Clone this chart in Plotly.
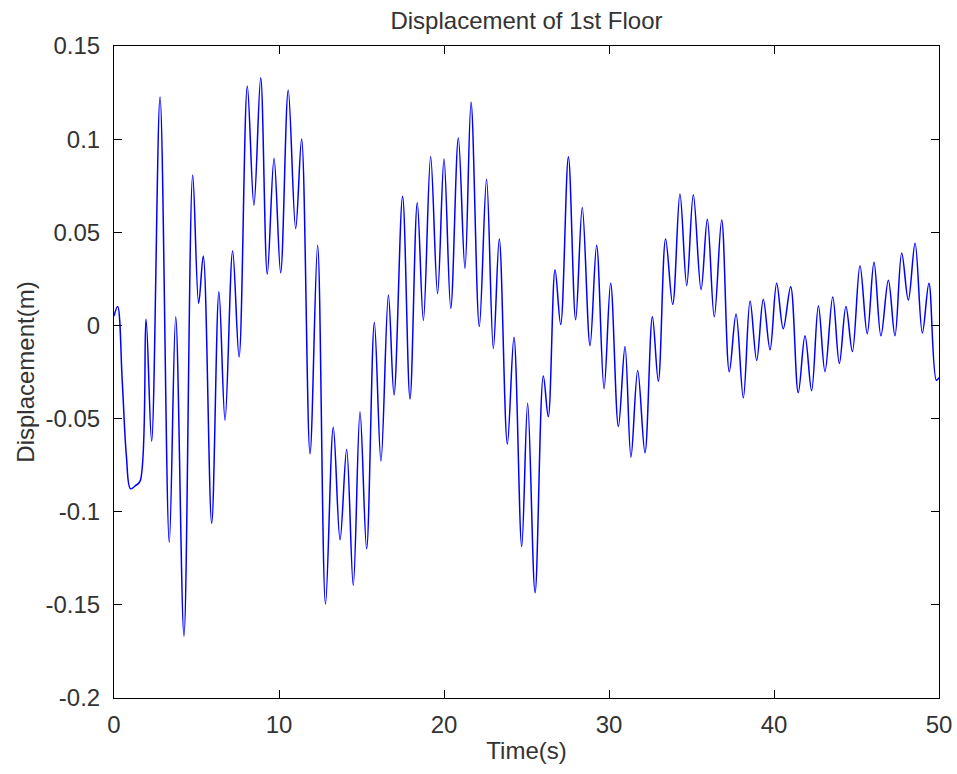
import plotly.graph_objects as go

# Extrema / key points (time in s, displacement in m)
time_s = [0.0, 0.22, 0.5, 0.75, 1.0, 1.3, 1.58, 1.94, 2.28, 2.79, 3.35, 3.74, 4.24, 4.77, 5.13, 5.41,
          5.92, 6.36, 6.73, 7.19, 7.58, 8.08, 8.48, 8.89, 9.29, 9.70, 10.10, 10.56, 11.01, 11.37, 11.88,
          12.34, 12.82, 13.29, 13.70, 14.10, 14.50, 14.91, 15.31, 15.78, 16.18, 16.63, 16.97, 17.49,
          17.94, 18.38, 18.75, 19.19, 19.61, 20.0, 20.41, 20.87, 21.27, 21.64, 22.14, 22.58, 22.99,
          23.35, 23.84, 24.24, 24.71, 25.07, 25.52, 26.02, 26.32, 26.73, 27.07, 27.54, 27.98, 28.38,
          28.85, 29.25, 29.70, 30.10, 30.57, 30.97, 31.33, 31.74, 32.18, 32.63, 32.99, 33.43, 33.86,
          34.30, 34.71, 35.11, 35.58, 35.96, 36.38, 36.83, 37.29, 37.70, 38.14, 38.55, 38.95, 39.35,
          39.76, 40.16, 40.56, 41.01, 41.47, 41.88, 42.28, 42.69, 43.09, 43.56, 43.96, 44.36, 44.75,
          45.21, 45.65, 46.06, 46.48, 46.93, 47.33, 47.74, 48.14, 48.55, 48.99, 49.39, 49.84, 50.0]

displacement_m = [0.005, 0.0102, -0.03, -0.07, -0.0877, -0.086, -0.0836, 0.0034, -0.0622, 0.1226,
                  -0.1164, 0.0046, -0.1668, 0.0807, 0.0118, 0.0373, -0.1062, 0.0181, -0.0509, 0.040,
                  -0.0169, 0.1285, 0.0645, 0.133, 0.0276, 0.0898, 0.0283, 0.1262, 0.052, 0.1001,
                  -0.0689, 0.043, -0.1496, -0.0547, -0.1151, -0.0665, -0.1395, -0.0465, -0.1199,
                  0.0016, -0.0728, 0.0163, -0.0373, 0.0694, -0.0395, 0.0659, 0.0027, 0.0905, 0.017,
                  0.0893, 0.0091, 0.1006, 0.0305, 0.1198, -0.0006, 0.0785, -0.0124, 0.0464, -0.0637,
                  -0.0063, -0.1187, -0.0418, -0.1435, -0.0271, -0.049, 0.0299, 0.0005, 0.0905, 0.003,
                  0.0633, -0.0108, 0.043, -0.0339, 0.0226, -0.0543, -0.0113, -0.0707, -0.0242, -0.0683,
                  0.0046, -0.0299, 0.0464, 0.0113, 0.0706, 0.0215, 0.0701, 0.0192, 0.057, 0.0046,
                  0.0566, -0.0248, 0.0061, -0.0389, 0.0131, -0.0188, 0.014, -0.0131, 0.0226, -0.0018,
                  0.0208, -0.0361, -0.0056, -0.035, 0.0106, -0.0248, 0.0152, -0.0204, 0.0102, -0.014,
                  0.0321, -0.0045, 0.0339, -0.0056, 0.0242, -0.0056, 0.0389, 0.0136, 0.0441, -0.004,
                  0.0226, -0.0294, -0.028]

x_tick_vals = [0, 10, 20, 30, 40, 50]
x_tick_text = ["0", "10", "20", "30", "40", "50"]
y_tick_vals = [0.15, 0.1, 0.05, 0, -0.05, -0.1, -0.15, -0.2]
y_tick_text = ["0.15", "0.1", "0.05", "0", "-0.05", "-0.1", "-0.15", "-0.2"]

FONT = "Liberation Sans, Arial, sans-serif"
TXT = "#333333"

fig = go.Figure()
fig.add_trace(go.Scatter(
    x=time_s, y=displacement_m, mode="lines",
    line=dict(color="#0000FF", width=1.5, shape="spline", smoothing=1.0),
    showlegend=False, hoverinfo="skip"))

axis_common = dict(
    showgrid=False, zeroline=False, showline=True, linecolor="black", linewidth=1,
    mirror="ticks", ticks="inside", ticklen=8, tickwidth=1, tickcolor="black",
    tickfont=dict(family=FONT, size=24, color=TXT),
)

fig.update_layout(
    width=957, height=774,
    margin=dict(l=114, r=18, t=46, b=76, autoexpand=False),
    paper_bgcolor="white", plot_bgcolor="white",
    title=dict(text="Displacement of 1st Floor", x=0.5, xref="paper", xanchor="center",
               y=1 - 21 / 774, yref="container", yanchor="middle",
               font=dict(family=FONT, size=24, color=TXT)),
    xaxis=dict(range=[0, 50], tickvals=x_tick_vals, ticktext=x_tick_text,
               ticklabelstandoff=5,
               title=dict(text="Time(s)", standoff=5, font=dict(family=FONT, size=24, color=TXT)),
               **axis_common),
    yaxis=dict(range=[-0.2, 0.15], tickvals=y_tick_vals, ticktext=y_tick_text,
               ticklabelstandoff=8,
               title=dict(text="Displacement(m)", standoff=4, font=dict(family=FONT, size=24, color=TXT)),
               **axis_common),
)

fig.write_html("out.html")
